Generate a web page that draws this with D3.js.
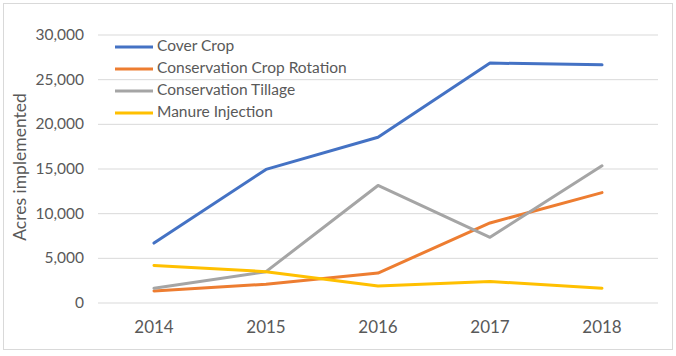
<!DOCTYPE html>
<html><head><meta charset="utf-8">
<script src="https://cdn.jsdelivr.net/npm/d3@7"></script>
<style>body{margin:0;background:#fff}svg{display:block}</style>
</head><body>
<svg id="c" width="676" height="356"></svg>
<script>
const years = ["2014","2015","2016","2017","2018"];
const seriesNames = ["Cover Crop","Conservation Crop Rotation","Conservation Tillage","Manure Injection"];
const coverCrop = [6650, 14900, 18500, 26800, 26600];
const cropRotation = [1300, 2050, 3300, 8900, 12300];
const tillage = [1600, 3450, 13100, 7300, 15300];
const manure = [4150, 3450, 1850, 2350, 1600];
const yTicks = [0, 5000, 10000, 15000, 20000, 25000, 30000];
const colors = ["#4472C4","#ED7D31","#A5A5A5","#FFC000"];
const allValues = [coverCrop, cropRotation, tillage, manure];

const svg = d3.select("#c");
const font = "Lato, 'Open Sans', sans-serif";
svg.append("rect").attr("x",3.5).attr("y",3.5).attr("width",669).attr("height",346)
  .attr("fill","#fff").attr("stroke","#d9d9d9");

const x = d3.scaleBand().domain(years).range([98,658]);
const y = d3.scaleLinear().domain([0,30000]).range([302.5,34.5]);

const gy = svg.append("g").attr("transform","translate(98,0)")
  .call(d3.axisLeft(y).tickValues(yTicks).tickSize(-560).tickFormat(d3.format(",")).tickPadding(14));
gy.select(".domain").remove();
gy.selectAll("line").attr("stroke","#d9d9d9");
gy.selectAll("text").attr("fill","#595959").style("font-family",font).style("font-size","15.5px");

const gx = svg.append("g").attr("transform","translate(0,302.5)")
  .call(d3.axisBottom(x).tickSize(0).tickPadding(18));
gx.select(".domain").remove();
gx.selectAll("text").attr("fill","#595959").style("font-family",font).style("font-size","17px");

svg.append("text").attr("transform","translate(22,167) rotate(-90)")
  .attr("text-anchor","middle").attr("dominant-baseline","middle")
  .attr("fill","#595959").style("font-family",font).style("font-size","17.5px")
  .text("Acres implemented");

const line = d3.line().x((d,i)=>x(years[i])+x.bandwidth()/2).y(d=>y(d));
allValues.forEach((vals,k)=>{
  svg.append("path").datum(vals).attr("d",line).attr("fill","none")
    .attr("stroke",colors[k]).attr("stroke-width",3).attr("stroke-linejoin","round").attr("stroke-linecap","round");
});

const lg = svg.append("g");
seriesNames.forEach((n,k)=>{
  const yy = 47 + k*22;
  lg.append("line").attr("x1",115).attr("x2",153).attr("y1",yy).attr("y2",yy)
    .attr("stroke",colors[k]).attr("stroke-width",3);
  lg.append("text").attr("x",157).attr("y",yy).attr("dominant-baseline","middle")
    .attr("fill","#595959").style("font-family",font).style("font-size","15.5px").text(n);
});
</script>
</body></html>
